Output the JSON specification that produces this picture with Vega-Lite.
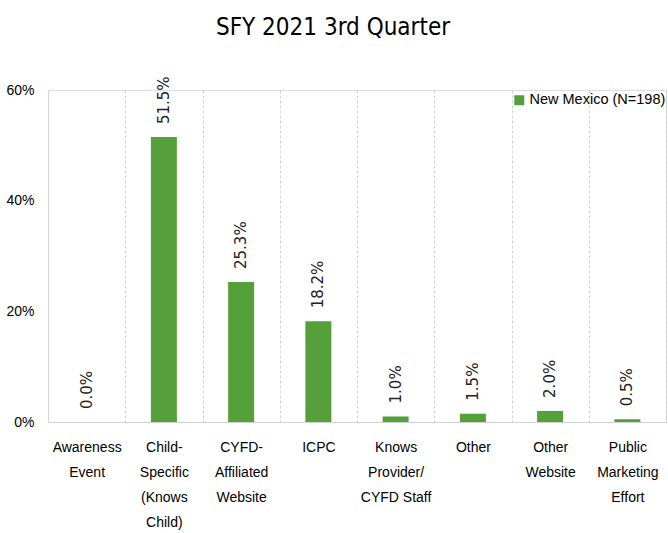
{
  "$schema": "https://vega.github.io/schema/vega-lite/v6.json",
  "width": 618,
  "height": 332,
  "autosize": "none",
  "padding": {"left": 48, "top": 90, "right": 2, "bottom": 111},
  "background": "white",
  "title": {
    "text": "SFY 2021 3rd Quarter",
    "font": "DejaVu Sans Condensed, Liberation Sans",
    "fontSize": 24,
    "fontWeight": "normal",
    "color": "#000000",
    "anchor": "middle",
    "dx": -24,
    "offset": 36
  },
  "data": {
    "values": [
      {"category": "Awareness Event", "series": "New Mexico (N=198)", "value": 0.0},
      {"category": "Child-Specific (Knows Child)", "series": "New Mexico (N=198)", "value": 0.515},
      {"category": "CYFD-Affiliated Website", "series": "New Mexico (N=198)", "value": 0.253},
      {"category": "ICPC", "series": "New Mexico (N=198)", "value": 0.182},
      {"category": "Knows Provider/CYFD Staff", "series": "New Mexico (N=198)", "value": 0.010},
      {"category": "Other", "series": "New Mexico (N=198)", "value": 0.015},
      {"category": "Other Website", "series": "New Mexico (N=198)", "value": 0.020},
      {"category": "Public Marketing Effort", "series": "New Mexico (N=198)", "value": 0.005}
    ]
  },
  "encoding": {
    "x": {
      "field": "category",
      "type": "nominal",
      "sort": null,
      "scale": {"paddingInner": 0, "paddingOuter": 0},
      "axis": {
        "title": null,
        "labelAngle": 0,
        "labelFont": "Liberation Sans",
        "labelFontSize": 14,
        "labelColor": "#000000",
        "labelLineHeight": 25,
        "labelPadding": 18,
        "labelBaseline": "top",
        "tickBand": "extent",
        "ticks": false,
        "grid": true,
        "gridColor": "#d0d0d0",
        "gridDash": [3, 2],
        "gridWidth": 1,
        "domain": true,
        "domainColor": "#d0d0d0",
        "domainWidth": 1,
        "labelExpr": "datum.value == 'Awareness Event' ? ['Awareness','Event'] : datum.value == 'Child-Specific (Knows Child)' ? ['Child-','Specific','(Knows','Child)'] : datum.value == 'CYFD-Affiliated Website' ? ['CYFD-','Affiliated','Website'] : datum.value == 'Knows Provider/CYFD Staff' ? ['Knows','Provider/','CYFD Staff'] : datum.value == 'Other Website' ? ['Other','Website'] : datum.value == 'Public Marketing Effort' ? ['Public','Marketing','Effort'] : datum.value"
      }
    },
    "y": {
      "field": "value",
      "type": "quantitative",
      "scale": {"domain": [0, 0.6], "nice": false},
      "axis": {
        "title": null,
        "values": [0, 0.2, 0.4, 0.6],
        "format": ".0%",
        "grid": false,
        "domain": false,
        "ticks": false,
        "labelFont": "Liberation Sans",
        "labelFontSize": 14,
        "labelColor": "#000000",
        "labelPadding": 14
      }
    }
  },
  "layer": [
    {
      "mark": {"type": "bar", "width": 26},
      "encoding": {
        "color": {
          "field": "series",
          "type": "nominal",
          "scale": {"range": ["#55a03a"]},
          "legend": {
            "title": null,
            "orient": "none",
            "legendX": 464,
            "legendY": 3,
            "padding": 0,
            "symbolType": "square",
            "symbolSize": 100,
            "symbolStrokeWidth": 0,
            "labelFont": "Liberation Sans",
            "labelFontSize": 14.5,
            "labelColor": "#000000",
            "labelOffset": 3
          }
        }
      }
    },
    {
      "mark": {
        "type": "text",
        "angle": -90,
        "align": "left",
        "baseline": "middle",
        "dx": 13,
        "font": "DejaVu Sans",
        "fontSize": 15,
        "color": "#222222"
      },
      "encoding": {
        "text": {"field": "value", "type": "quantitative", "format": ".1%"}
      }
    }
  ]
}
